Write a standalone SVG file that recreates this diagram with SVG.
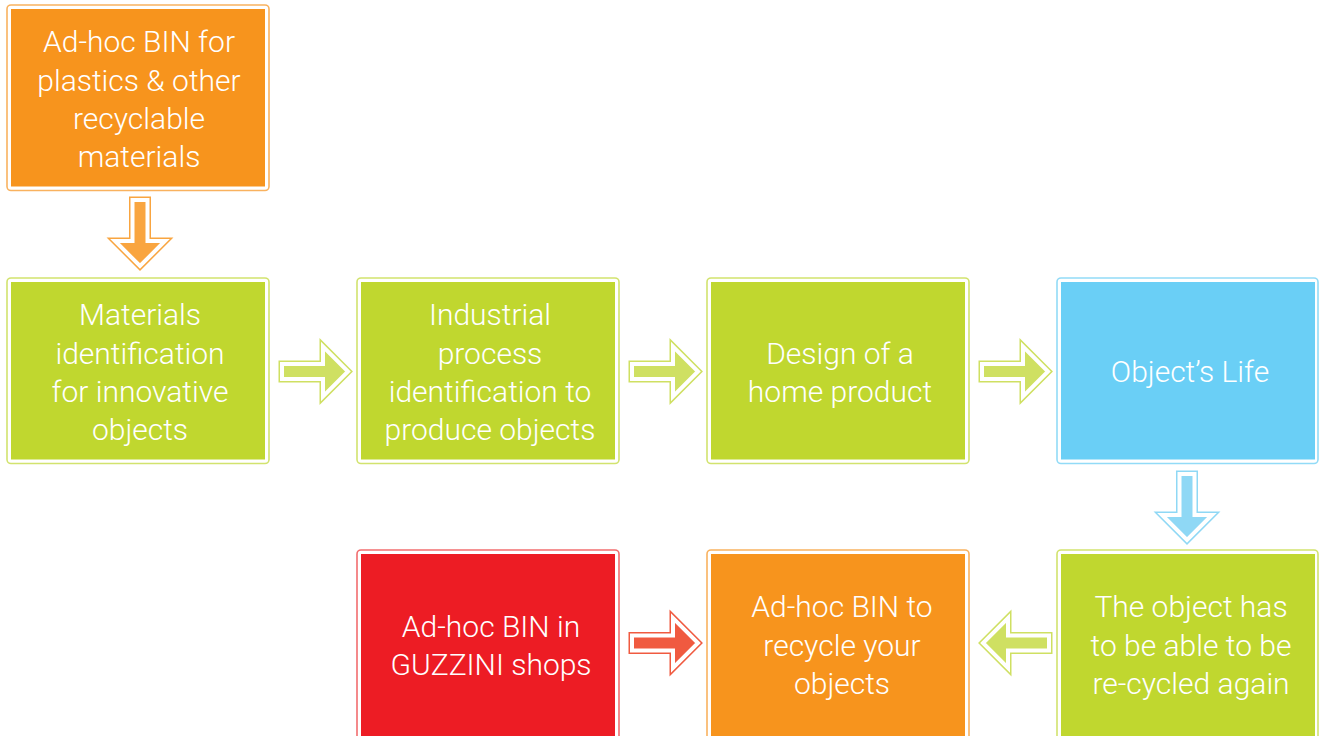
<svg xmlns="http://www.w3.org/2000/svg" width="1319" height="736" viewBox="0 0 1319 736">
<style>
.o{fill:none;stroke-width:1.6}
.t{font-family:Roboto,"Liberation Sans",sans-serif;font-weight:300;font-size:30px;fill:#fff;text-anchor:middle}
.ao{stroke-width:7;stroke-linejoin:miter;stroke-miterlimit:10}
.aw{fill:none;stroke:#fff;stroke-width:4;stroke-linejoin:miter;stroke-miterlimit:10}
</style>
<defs>
<polygon id="ra" points="-36,-7.5 5,-7.5 5,-25 30,0 5,25 5,7.5 -36,7.5"/>
</defs>
<rect width="1319" height="736" fill="#fff"/>
<g id="n1">
<rect class="o" x="7" y="5" width="262" height="185.5" rx="4" stroke="#F9B25F"/>
<rect x="11" y="9" width="254" height="177.5" fill="#F7941D"/>
<text class="t"><tspan x="139" y="52">Ad-hoc BIN for</tspan><tspan x="139" y="90.5">plastics &amp; other</tspan><tspan x="139" y="129">recyclable</tspan><tspan x="139" y="167">materials</tspan></text>
</g>
<g id="n2">
<rect class="o" x="7" y="278" width="262" height="185.5" rx="4" stroke="#D2E36E"/>
<rect x="11" y="282" width="254" height="177.5" fill="#C0D72F"/>
<text class="t"><tspan x="140" y="325">Materials</tspan><tspan x="140" y="363.5">identification</tspan><tspan x="140" y="402">for innovative</tspan><tspan x="140" y="440">objects</tspan></text>
</g>
<g id="n3">
<rect class="o" x="357" y="278" width="262" height="185.5" rx="4" stroke="#D2E36E"/>
<rect x="361" y="282" width="254" height="177.5" fill="#C0D72F"/>
<text class="t"><tspan x="490" y="325">Industrial</tspan><tspan x="490" y="363.5">process</tspan><tspan x="490" y="402">identification to</tspan><tspan x="490" y="440">produce objects</tspan></text>
</g>
<g id="n4">
<rect class="o" x="707" y="278" width="262" height="185.5" rx="4" stroke="#D2E36E"/>
<rect x="711" y="282" width="254" height="177.5" fill="#C0D72F"/>
<text class="t"><tspan x="840" y="363.5">Design of a</tspan><tspan x="840" y="402">home product</tspan></text>
</g>
<g id="n5">
<rect class="o" x="1057" y="278" width="261" height="185.5" rx="4" stroke="#92DBF7"/>
<rect x="1061" y="282" width="254" height="177.5" fill="#6ACFF6"/>
<text class="t"><tspan x="1190" y="382">Object’s Life</tspan></text>
</g>
<g id="n6">
<rect class="o" x="1057" y="550" width="261" height="190" rx="4" stroke="#D2E36E"/>
<rect x="1061" y="554" width="254" height="190" fill="#C0D72F"/>
<text class="t"><tspan x="1191" y="617">The object has</tspan><tspan x="1191" y="656">to be able to be</tspan><tspan x="1191" y="694">re-cycled again</tspan></text>
</g>
<g id="n7">
<rect class="o" x="707" y="550" width="262" height="190" rx="4" stroke="#F9B25F"/>
<rect x="711" y="554" width="254" height="190" fill="#F7941D"/>
<text class="t"><tspan x="842" y="617">Ad-hoc BIN to</tspan><tspan x="842" y="656">recycle your</tspan><tspan x="842" y="694">objects</tspan></text>
</g>
<g id="n8">
<rect class="o" x="357" y="550" width="262" height="190" rx="4" stroke="#F26D6F"/>
<rect x="361" y="554" width="254" height="190" fill="#ED1C24"/>
<text class="t"><tspan x="491" y="637">Ad-hoc BIN in</tspan><tspan x="491" y="675">GUZZINI shops</tspan></text>
</g>
<g id="connectors">
<g transform="translate(140,236) rotate(90)">
<use href="#ra" class="ao" fill="#F9A540" stroke="#F9A540"/><use href="#ra" class="aw"/>
</g>
<g transform="translate(318,371.5)">
<use href="#ra" class="ao" fill="#CFE062" stroke="#CFE062"/><use href="#ra" class="aw"/>
</g>
<g transform="translate(668,371.5)">
<use href="#ra" class="ao" fill="#CFE062" stroke="#CFE062"/><use href="#ra" class="aw"/>
</g>
<g transform="translate(1018,371.5)">
<use href="#ra" class="ao" fill="#CFE062" stroke="#CFE062"/><use href="#ra" class="aw"/>
</g>
<g transform="translate(1187,510) rotate(90)">
<use href="#ra" class="ao" fill="#8FD8F5" stroke="#8FD8F5"/><use href="#ra" class="aw"/>
</g>
<g transform="translate(1013,643) rotate(180)">
<use href="#ra" class="ao" fill="#CFE062" stroke="#CFE062"/><use href="#ra" class="aw"/>
</g>
<g transform="translate(668,643)">
<use href="#ra" class="ao" fill="#F05A40" stroke="#F05A40"/><use href="#ra" class="aw"/>
</g>
</g>
</svg>
